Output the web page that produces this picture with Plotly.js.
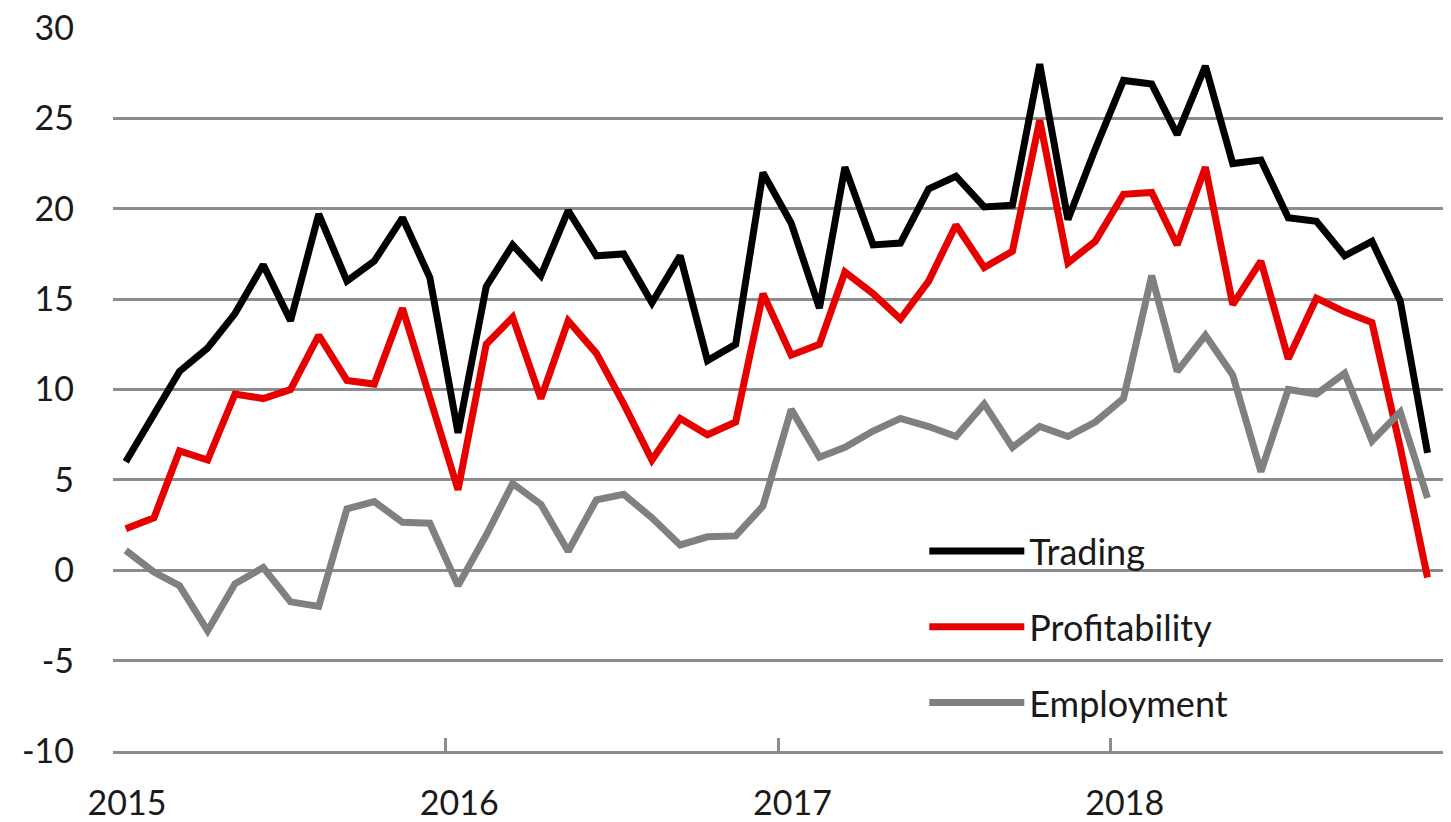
<!DOCTYPE html>
<html>
<head>
<meta charset="utf-8">
<script src="https://cdn.plot.ly/plotly-3.0.1.min.js"></script>
<style>body{margin:0;background:#fff}</style>
</head>
<body>
<div id="grafico" style="width:1451px;height:822px"></div>
<script>
// Meses: enero 2015 - diciembre 2018 (punto a mitad de mes)
const anios = [2015, 2016, 2017, 2018];
const numMes = ['01', '02', '03', '04', '05', '06', '07', '08', '09', '10', '11', '12'];
const meses = [];
anios.forEach(a => numMes.forEach(m => meses.push(`${a}-${m}-15`)));

// Etiquetas de los ejes
const tickFechas = ['2015-01-01', '2016-01-01', '2017-01-01', '2018-01-01', '2019-01-01'];
const tickTextos = ['2015', '2016', '2017', '2018', ''];
const yTicks = [-10, -5, 0, 5, 10, 15, 20, 25, 30];
const yTextos = ['-10', '-5', '0', '5', '10', '15', '20', '25', '30'];

// Series
const trading = [6.0, 8.7, 11.0, 12.3, 14.2, 16.9, 13.8, 19.7, 16.0, 17.1, 19.5, 16.2,
    7.6, 15.7, 18.0, 16.3, 19.9, 17.4, 17.5, 14.8, 17.4, 11.6, 12.5, 22.0,
    19.2, 14.5, 22.3, 18.0, 18.1, 21.1, 21.8, 20.1, 20.2, 28.0, 19.4, 23.3,
    27.1, 26.9, 24.1, 27.9, 22.5, 22.7, 19.5, 19.3, 17.4, 18.2, 14.9, 6.5];
const profitability = [2.3, 2.9, 6.6, 6.1, 9.75, 9.5, 10.0, 13.0, 10.5, 10.3, 14.5, 9.4,
    4.45, 12.5, 14.0, 9.5, 13.8, 12.0, 9.2, 6.1, 8.4, 7.5, 8.2, 15.3,
    11.9, 12.5, 16.5, 15.3, 13.9, 16.0, 19.1, 16.75, 17.65, 24.9, 17.0, 18.2,
    20.8, 20.9, 18.0, 22.3, 14.7, 17.1, 11.7, 15.05, 14.3, 13.7, 6.8, -0.4];
const employment = [1.1, -0.1, -0.85, -3.35, -0.75, 0.15, -1.75, -2.0, 3.4, 3.8, 2.65, 2.6,
    -0.85, 1.95, 4.8, 3.65, 1.05, 3.9, 4.2, 2.9, 1.4, 1.85, 1.9, 3.55,
    8.9, 6.25, 6.8, 7.7, 8.4, 7.95, 7.4, 9.2, 6.8, 7.95, 7.4, 8.2,
    9.5, 16.3, 11.0, 13.0, 10.8, 5.45, 10.0, 9.75, 10.9, 7.15, 8.75, 4.0];

const colores = { trading: '#000000', profitability: '#e60000', employment: '#808080' };
const gris = '#8c8c8c';
const fuente = 'Lato, "Open Sans", sans-serif';

function serie(nombre, y, color) {
    return {
        x: meses,
        y: y,
        name: nombre,
        type: 'scatter',
        mode: 'lines',
        line: { color: color, width: 7 },
        legendgroup: nombre,
        hovertemplate: '%{y:.1f}<extra>' + nombre + '</extra>',
    };
}

const data = [
    serie('Trading', trading, colores.trading),
    serie('Profitability', profitability, colores.profitability),
    serie('Employment', employment, colores.employment),
];

const layout = {
    width: 1451,
    height: 822,
    margin: { l: 113, r: 8, t: 28, b: 71 },
    paper_bgcolor: '#ffffff',
    plot_bgcolor: '#ffffff',
    font: { family: fuente, size: 34, color: '#1a1a1a' },
    xaxis: {
        type: 'date',
        range: ['2015-01-01', '2019-01-01'],
        tickmode: 'array',
        tickvals: tickFechas,
        ticktext: tickTextos,
        ticks: 'inside',
        ticklen: 13,
        tickwidth: 2.5,
        tickcolor: gris,
        ticklabelshift: 14,
        ticklabelstandoff: 20,
        showgrid: false,
        showline: true,
        linecolor: gris,
        linewidth: 3,
        zeroline: false,
        fixedrange: true,
    },
    yaxis: {
        range: [-10, 30],
        tickmode: 'array',
        tickvals: yTicks,
        ticktext: yTextos,
        showgrid: true,
        gridcolor: gris,
        gridwidth: 3,
        zeroline: false,
        showline: false,
        ticks: '',
        ticklabelstandoff: 38,
        fixedrange: true,
    },
    showlegend: true,
    legend: {
        x: 0.61,
        xanchor: 'left',
        y: 0.318,
        yanchor: 'top',
        traceorder: 'grouped',
        tracegroupgap: 26,
        itemwidth: 95,
        bgcolor: 'rgba(0,0,0,0)',
        font: { family: fuente, size: 36, color: '#1a1a1a' },
    },
};

Plotly.newPlot('grafico', data, layout, { displayModeBar: false, responsive: false });
</script>
</body>
</html>
